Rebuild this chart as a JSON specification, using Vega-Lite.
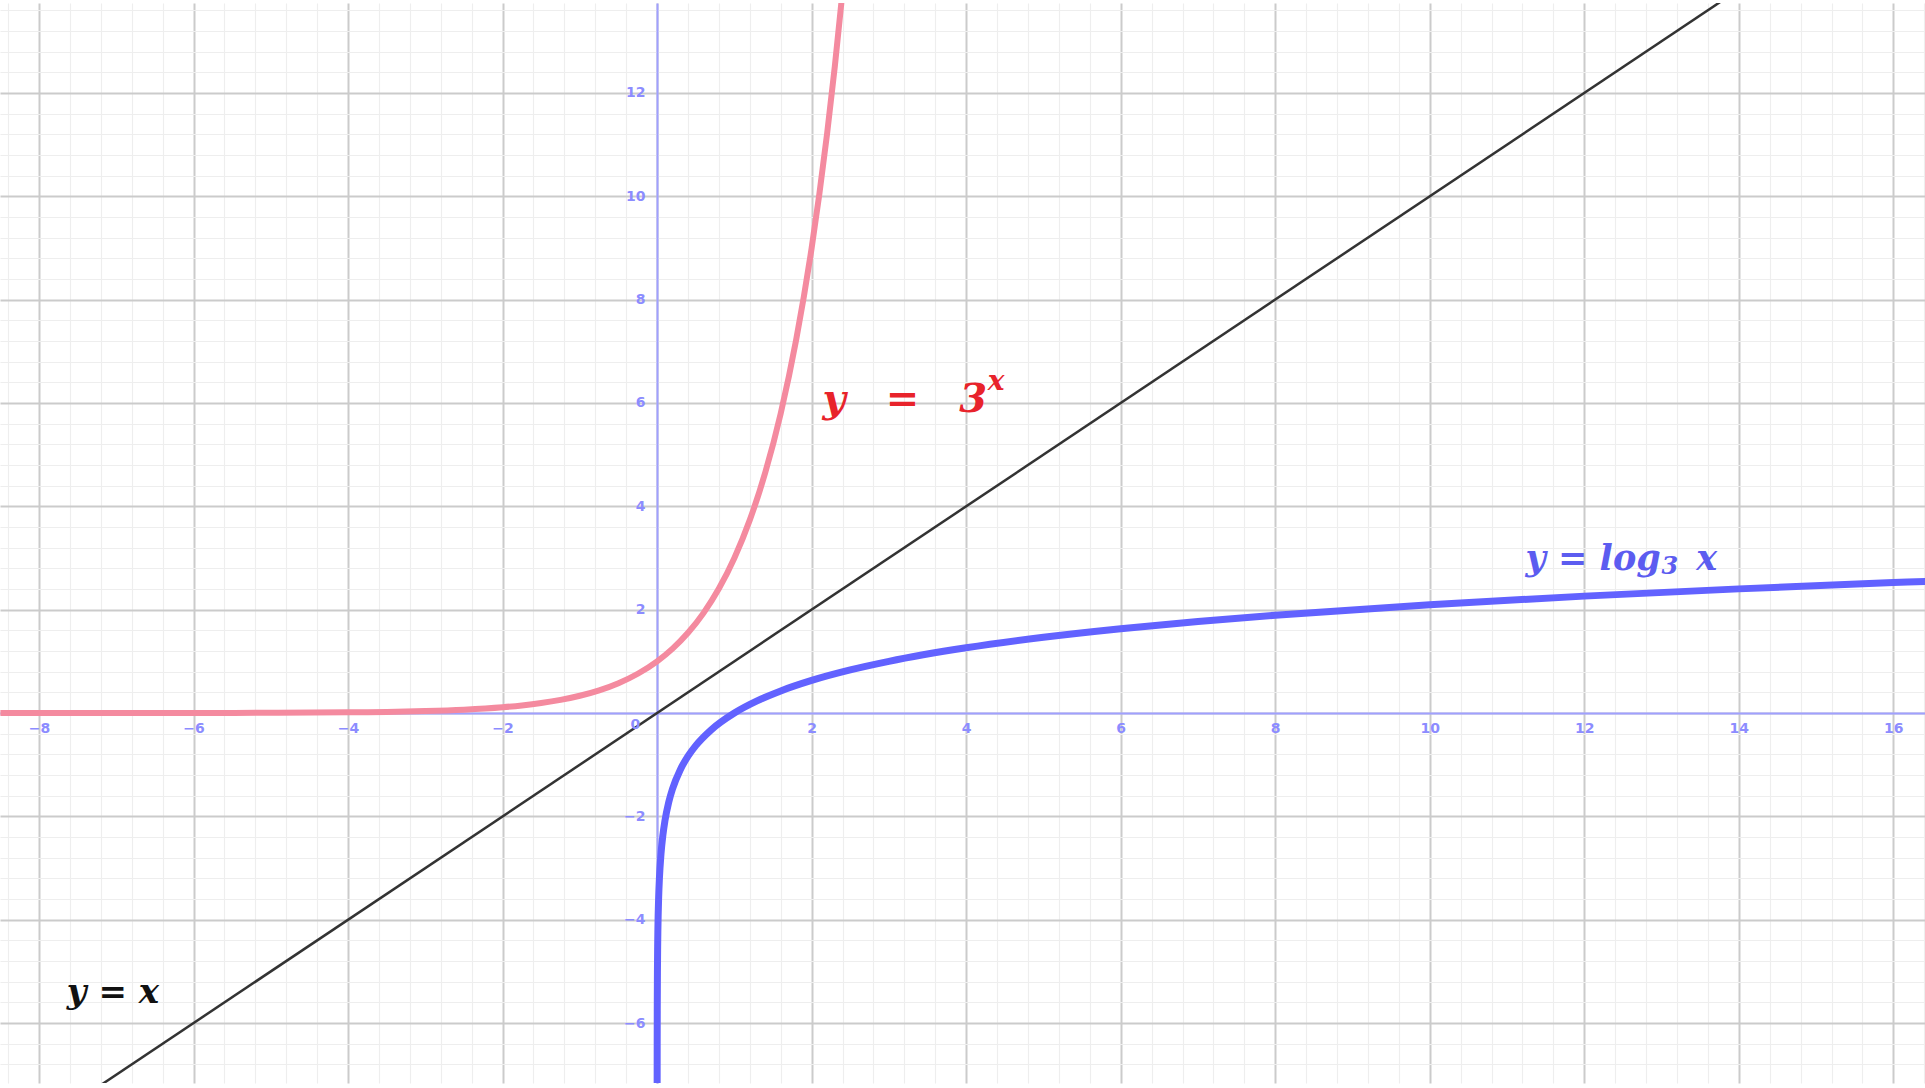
{
  "$schema": "https://vega.github.io/schema/vega-lite/v6.json",
  "width": 1925,
  "height": 1080,
  "padding": {"top": 3, "bottom": 5, "left": 0, "right": 0},
  "autosize": "none",
  "background": "white",
  "config": {"view": {"stroke": null}},
  "datasets": {
    "curves": [
      {"s": "id", "x": -8.5, "y": -8.5},
      {"s": "id", "x": 16.5, "y": 16.5},
      {"s": "exp", "x": -8.5, "y": 0.0001},
      {"s": "exp", "x": -8, "y": 0.00015},
      {"s": "exp", "x": -7, "y": 0.00046},
      {"s": "exp", "x": -6, "y": 0.00137},
      {"s": "exp", "x": -5, "y": 0.0041},
      {"s": "exp", "x": -4, "y": 0.0123},
      {"s": "exp", "x": -3.5, "y": 0.0214},
      {"s": "exp", "x": -3, "y": 0.037},
      {"s": "exp", "x": -2.5, "y": 0.0641},
      {"s": "exp", "x": -2, "y": 0.1111},
      {"s": "exp", "x": -1.75, "y": 0.1462},
      {"s": "exp", "x": -1.5, "y": 0.1925},
      {"s": "exp", "x": -1.25, "y": 0.2533},
      {"s": "exp", "x": -1, "y": 0.3333},
      {"s": "exp", "x": -0.75, "y": 0.4387},
      {"s": "exp", "x": -0.5, "y": 0.5774},
      {"s": "exp", "x": -0.25, "y": 0.7598},
      {"s": "exp", "x": 0, "y": 1},
      {"s": "exp", "x": 0.2, "y": 1.2457},
      {"s": "exp", "x": 0.4, "y": 1.5518},
      {"s": "exp", "x": 0.6, "y": 1.9332},
      {"s": "exp", "x": 0.8, "y": 2.4082},
      {"s": "exp", "x": 1, "y": 3},
      {"s": "exp", "x": 1.2, "y": 3.7372},
      {"s": "exp", "x": 1.4, "y": 4.6555},
      {"s": "exp", "x": 1.6, "y": 5.7995},
      {"s": "exp", "x": 1.8, "y": 7.2247},
      {"s": "exp", "x": 2, "y": 9},
      {"s": "exp", "x": 2.1, "y": 10.0451},
      {"s": "exp", "x": 2.2, "y": 11.2116},
      {"s": "exp", "x": 2.3, "y": 12.5135},
      {"s": "exp", "x": 2.4, "y": 13.9666},
      {"s": "exp", "x": 2.45, "y": 14.76},
      {"s": "log", "x": 0.0003, "y": -7.3836},
      {"s": "log", "x": 0.0005, "y": -6.9186},
      {"s": "log", "x": 0.001, "y": -6.2877},
      {"s": "log", "x": 0.002, "y": -5.6568},
      {"s": "log", "x": 0.004, "y": -5.0259},
      {"s": "log", "x": 0.007, "y": -4.5165},
      {"s": "log", "x": 0.01, "y": -4.1918},
      {"s": "log", "x": 0.02, "y": -3.5609},
      {"s": "log", "x": 0.03, "y": -3.1918},
      {"s": "log", "x": 0.05, "y": -2.7268},
      {"s": "log", "x": 0.075, "y": -2.3578},
      {"s": "log", "x": 0.1, "y": -2.0959},
      {"s": "log", "x": 0.15, "y": -1.7268},
      {"s": "log", "x": 0.2, "y": -1.465},
      {"s": "log", "x": 0.3, "y": -1.0959},
      {"s": "log", "x": 0.4, "y": -0.834},
      {"s": "log", "x": 0.5, "y": -0.6309},
      {"s": "log", "x": 0.7, "y": -0.3247},
      {"s": "log", "x": 1, "y": 0},
      {"s": "log", "x": 1.3, "y": 0.2388},
      {"s": "log", "x": 1.6, "y": 0.4278},
      {"s": "log", "x": 2, "y": 0.6309},
      {"s": "log", "x": 2.5, "y": 0.834},
      {"s": "log", "x": 3, "y": 1},
      {"s": "log", "x": 4, "y": 1.2619},
      {"s": "log", "x": 5, "y": 1.465},
      {"s": "log", "x": 6, "y": 1.6309},
      {"s": "log", "x": 7, "y": 1.7712},
      {"s": "log", "x": 8, "y": 1.8928},
      {"s": "log", "x": 10, "y": 2.0959},
      {"s": "log", "x": 12, "y": 2.2619},
      {"s": "log", "x": 14, "y": 2.4022},
      {"s": "log", "x": 16, "y": 2.5237},
      {"s": "log", "x": 16.5, "y": 2.5518}
    ]
  },
  "encoding": {
    "x": {
      "field": "x",
      "type": "quantitative",
      "scale": {"domain": [-8.505, 16.41], "nice": false, "zero": false},
      "axis": {
        "orient": "bottom",
        "offset": -370,
        "title": null,
        "values": [-8.4,-8,-7.6,-7.2,-6.8,-6.4,-6,-5.6,-5.2,-4.8,-4.4,-4,-3.6,-3.2,-2.8,-2.4,-2,-1.6,-1.2,-0.8,-0.4,0,0.4,0.8,1.2,1.6,2,2.4,2.8,3.2,3.6,4,4.4,4.8,5.2,5.6,6,6.4,6.8,7.2,7.6,8,8.4,8.8,9.2,9.6,10,10.4,10.8,11.2,11.6,12,12.4,12.8,13.2,13.6,14,14.4,14.8,15.2,15.6,16,16.4],
        "grid": true,
        "gridColor": {"condition": {"test": "abs(datum.value/2-round(datum.value/2))<0.01", "value": "#cbcbcb"}, "value": "#eeeeee"},
        "gridWidth": {"condition": {"test": "abs(datum.value/2-round(datum.value/2))<0.01", "value": 2}, "value": 1.2},
        "ticks": false,
        "domainColor": "#a0a0ff",
        "domainWidth": 2,
        "labelExpr": "abs(datum.value/2-round(datum.value/2))<0.01 && abs(datum.value)>0.01 ? format(datum.value,'.0f') : ''",
        "labelColor": "#8c8cff",
        "labelFont": "DejaVu Sans",
        "labelFontWeight": "bold",
        "labelFontSize": 14,
        "labelPadding": 8,
        "labelOverlap": false,
        "labelFlush": false
      }
    },
    "y": {
      "field": "y",
      "type": "quantitative",
      "scale": {"domain": [-7.16, 13.74], "nice": false, "zero": false},
      "axis": {
        "orient": "left",
        "offset": -657,
        "title": null,
        "values": [-6.8,-6.4,-6,-5.6,-5.2,-4.8,-4.4,-4,-3.6,-3.2,-2.8,-2.4,-2,-1.6,-1.2,-0.8,-0.4,0,0.4,0.8,1.2,1.6,2,2.4,2.8,3.2,3.6,4,4.4,4.8,5.2,5.6,6,6.4,6.8,7.2,7.6,8,8.4,8.8,9.2,9.6,10,10.4,10.8,11.2,11.6,12,12.4,12.8,13.2,13.6],
        "grid": true,
        "gridColor": {"condition": {"test": "abs(datum.value/2-round(datum.value/2))<0.01", "value": "#cbcbcb"}, "value": "#eeeeee"},
        "gridWidth": {"condition": {"test": "abs(datum.value/2-round(datum.value/2))<0.01", "value": 2}, "value": 1.2},
        "ticks": false,
        "domainColor": "#a0a0ff",
        "domainWidth": 2,
        "labelExpr": "abs(datum.value/2-round(datum.value/2))<0.01 && abs(datum.value)>0.01 ? format(datum.value,'.0f') : ''",
        "labelColor": "#8c8cff",
        "labelFont": "DejaVu Sans",
        "labelFontWeight": "bold",
        "labelFontSize": 14,
        "labelPadding": 12,
        "labelOverlap": false,
        "labelFlush": false
      }
    }
  },
  "layer": [
    {
      "data": {"name": "curves"},
      "transform": [{"filter": "datum.s === 'id'"}],
      "mark": {"type": "line", "color": "#333333", "strokeWidth": 2.5, "clip": true}
    },
    {
      "data": {"name": "curves"},
      "transform": [{"filter": "datum.s === 'exp'"}],
      "mark": {"type": "line", "color": "#f48a9f", "strokeWidth": 6, "clip": true, "interpolate": "monotone"}
    },
    {
      "data": {"name": "curves"},
      "transform": [{"filter": "datum.s === 'log'"}],
      "mark": {"type": "line", "color": "#6262ff", "strokeWidth": 7, "clip": true, "interpolate": "monotone"}
    },
    {
      "data": {"values": [{"x": -0.28, "y": -0.23, "t": "0"}]},
      "mark": {"type": "text", "color": "#8c8cff", "font": "DejaVu Sans", "fontWeight": "bold", "fontSize": 14, "align": "center", "baseline": "middle"},
      "encoding": {"text": {"field": "t"}}
    },
    {
      "data": {"values": [{"x": 2.14, "y": 5.83, "t": "y\u2003=\u20033"}]},
      "mark": {"type": "text", "color": "#e8232b", "font": "DejaVu Serif", "fontWeight": "bold", "fontStyle": "italic", "fontSize": 40, "align": "left", "baseline": "alphabetic"},
      "encoding": {"text": {"field": "t"}}
    },
    {
      "data": {"values": [{"x": 4.28, "y": 6.25, "t": "x"}]},
      "mark": {"type": "text", "color": "#e8232b", "font": "DejaVu Serif", "fontWeight": "bold", "fontStyle": "italic", "fontSize": 28, "align": "left", "baseline": "alphabetic"},
      "encoding": {"text": {"field": "t"}}
    },
    {
      "data": {"values": [{"x": 11.24, "y": 2.77, "t": "y = log"}, {"x": 13.45, "y": 2.77, "t": "x"}]},
      "mark": {"type": "text", "color": "#5c5cf0", "font": "DejaVu Serif", "fontWeight": "bold", "fontStyle": "italic", "fontSize": 35, "align": "left", "baseline": "alphabetic"},
      "encoding": {"text": {"field": "t"}}
    },
    {
      "data": {"values": [{"x": 13.0, "y": 2.69, "t": "3"}]},
      "mark": {"type": "text", "color": "#5c5cf0", "font": "DejaVu Serif", "fontWeight": "bold", "fontStyle": "italic", "fontSize": 24, "align": "left", "baseline": "alphabetic"},
      "encoding": {"text": {"field": "t"}}
    },
    {
      "data": {"values": [{"x": -7.64, "y": -5.61, "t": "y = x"}]},
      "mark": {"type": "text", "color": "#111111", "font": "DejaVu Serif", "fontWeight": "bold", "fontStyle": "italic", "fontSize": 34, "align": "left", "baseline": "alphabetic"},
      "encoding": {"text": {"field": "t"}}
    }
  ]
}
